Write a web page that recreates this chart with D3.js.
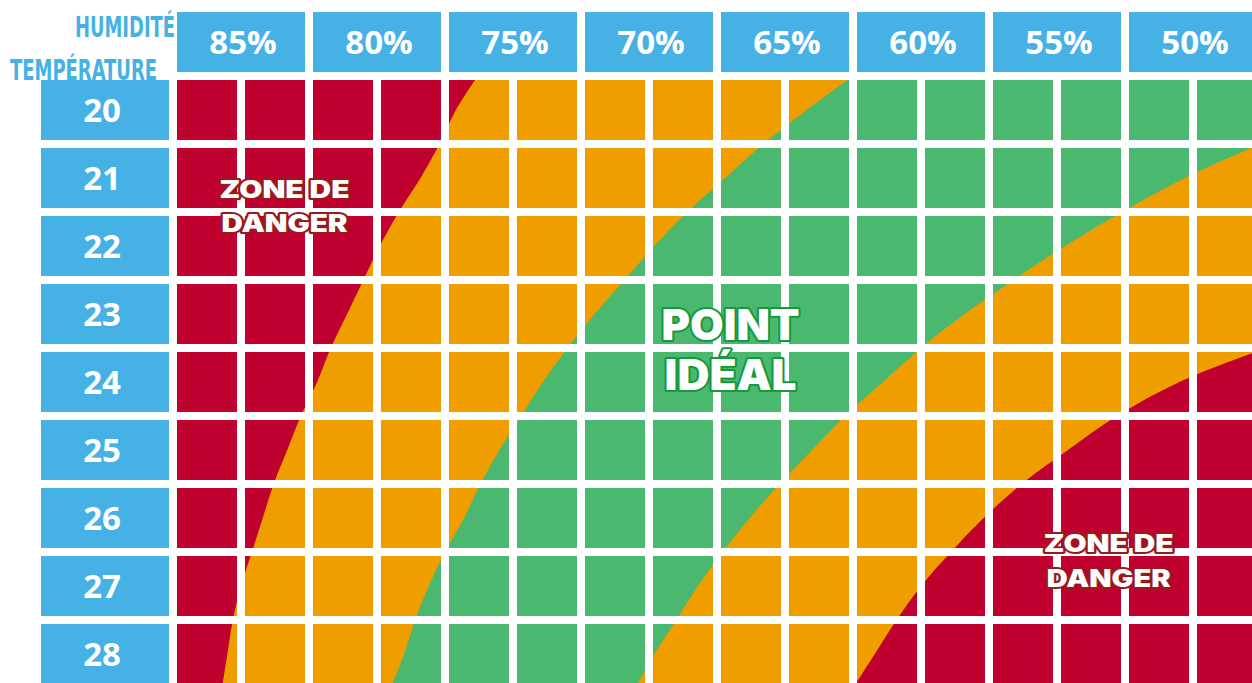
<!DOCTYPE html>
<meta charset="utf-8">
<style>
  body { margin: 0; background: #fff; overflow: hidden; }
</style>

<!-- Load d3.js -->
<script src="https://d3js.org/d3.v7.js"></script>

<div id="my_dataviz"></div>

<script>

// column headers (each covers two grid columns) and row headers
var humidityLabels = ["85%", "80%", "75%", "70%", "65%", "60%", "55%", "50%"];
var temperatures = [20, 21, 22, 23, 24, 25, 26, 27, 28];

// zone boundaries: humidity (%) at each half degree
var boundaryTemps = [19.5, 20, 20.5, 21, 21.5, 22, 22.5, 23, 23.5, 24, 24.5, 25, 25.5, 26, 26.5, 27, 27.5, 28, 28.5];
// red | orange (left)
var redOrangeLeft = [76.3, 77.1, 77.7, 78.4, 79.2, 79.9, 80.5, 81.1, 81.7, 82.2, 82.8, 83.3, 83.8, 84.2, 84.6, 85.0, 85.3, 85.5, 85.7];
// orange | green (left)
var orangeGreenLeft = [62.5, 64.2, 65.8, 67.2, 68.6, 69.8, 70.9, 72.0, 73.0, 73.9, 74.7, 75.5, 76.2, 76.8, 77.5, 78.1, 78.6, 79.0, 79.5];
// green | orange (right)
var greenOrangeRight = [40.7, 44.2, 47.5, 50.3, 52.6, 54.7, 56.6, 58.4, 60.0, 61.4, 62.8, 64.0, 65.2, 66.3, 67.3, 68.2, 69.0, 69.8, 70.5];
// orange | red (right), starts lower down
var redTemps = [23, 23.5, 24, 24.5, 25, 25.5, 26, 26.5, 27, 27.5, 28, 28.5];
var orangeRedRight = [43.7, 47.3, 50.5, 52.8, 54.6, 56.3, 57.7, 58.9, 60.0, 60.9, 61.7, 62.5];

// zone labels (position in humidity / temperature of the first baseline)
var zoneLabels = [
  {lines: ["ZONE DE", "DANGER"], h: 83.4, t: 21.29, size: 24, gap: 34, w: [130, 126], stroke: "#9a1a1c"},
  {lines: ["POINT", "IDÉAL"], h: 67.0, t: 23.38, size: 42, gap: 50, w: [138, 132], stroke: "#129a3c"},
  {lines: ["ZONE DE", "DANGER"], h: 53.1, t: 26.5, size: 24, gap: 35, w: [130, 124], stroke: "#9a1a1c"}
];

var colors = {blue: "#45b1e5", red: "#c0002e", orange: "#f09d00", green: "#4ab86e"};

var width = 1252, height = 683;

var svg = d3.select("#my_dataviz")
  .append("svg")
    .attr("width", width)
    .attr("height", height);

// grid scales: 16 columns, 9 rows, step 68 and 8px gaps
var gridLeft = 173, gridTop = 76, step = 68;
var cols = d3.range(humidityLabels.length * 2);
var xCol = d3.scaleBand()
  .domain(cols)
  .range([gridLeft, gridLeft + cols.length * step])
  .paddingInner(8 / step)
  .paddingOuter(4 / step);
var xHead = d3.scaleBand()
  .domain(humidityLabels)
  .range([gridLeft, gridLeft + cols.length * step])
  .paddingInner(8 / (2 * step))
  .paddingOuter(4 / (2 * step));
var yRow = d3.scaleBand()
  .domain(temperatures)
  .range([gridTop, gridTop + temperatures.length * step])
  .paddingInner(8 / step)
  .paddingOuter(4 / step);

// continuous scales for the zone curves
var x = d3.scaleLinear()
  .domain([85, 50])
  .range([xHead("85%") + xHead.bandwidth() / 2, xHead("50%") + xHead.bandwidth() / 2]);
var y = d3.scaleLinear()
  .domain([20, 28])
  .range([yRow(20) + yRow.bandwidth() / 2, yRow(28) + yRow.bandwidth() / 2]);

// clip the zones to the cells
var clip = svg.append("clipPath").attr("id", "cells");
temperatures.forEach(function (t) {
  cols.forEach(function (c) {
    clip.append("rect")
      .attr("x", xCol(c))
      .attr("y", yRow(t))
      .attr("width", xCol.bandwidth())
      .attr("height", yRow.bandwidth());
  });
});

var zones = svg.append("g").attr("clip-path", "url(#cells)");
var leftEdge = 0, rightEdge = width + 300;

zones.append("rect")
  .attr("x", gridLeft).attr("y", gridTop)
  .attr("width", width).attr("height", height)
  .attr("fill", colors.green);

function zoneArea(temps, hums, fromLeft) {
  var pts = temps.map(function (t, i) { return [t, hums[i]]; });
  var area = d3.area()
    .curve(d3.curveCatmullRom)
    .y(function (d) { return y(d[0]); });
  if (fromLeft) {
    area.x0(leftEdge).x1(function (d) { return x(d[1]); });
  } else {
    area.x0(function (d) { return x(d[1]); }).x1(rightEdge);
  }
  return area(pts);
}

zones.append("path").attr("d", zoneArea(boundaryTemps, orangeGreenLeft, true)).attr("fill", colors.orange);
zones.append("path").attr("d", zoneArea(boundaryTemps, redOrangeLeft, true)).attr("fill", colors.red);
zones.append("path").attr("d", zoneArea(boundaryTemps, greenOrangeRight, false)).attr("fill", colors.orange);
zones.append("path").attr("d", zoneArea(redTemps, orangeRedRight, false)).attr("fill", colors.red);

// humidity header boxes
var headTop = yRow(20) - 8 - yRow.bandwidth();
svg.append("g")
  .selectAll("rect")
  .data(humidityLabels)
  .enter()
  .append("rect")
    .attr("x", function (d) { return xHead(d); })
    .attr("y", headTop)
    .attr("width", xHead.bandwidth())
    .attr("height", yRow.bandwidth())
    .attr("fill", colors.blue);
svg.append("g")
  .selectAll("text")
  .data(humidityLabels)
  .enter()
  .append("text")
    .attr("x", function (d) { return xHead(d) + xHead.bandwidth() / 2 + 2; })
    .attr("y", headTop + 42)
    .attr("text-anchor", "middle")
    .attr("font-family", "'Open Sans', sans-serif")
    .attr("font-weight", 700)
    .attr("font-size", 33)
    .attr("fill", "#fff")
    .text(function (d) { return d; });

// temperature row boxes
var rowBoxX = 41, rowBoxW = gridLeft + 4 - 8 - rowBoxX;
svg.append("g")
  .selectAll("rect")
  .data(temperatures)
  .enter()
  .append("rect")
    .attr("x", rowBoxX)
    .attr("y", function (d) { return yRow(d); })
    .attr("width", rowBoxW)
    .attr("height", yRow.bandwidth())
    .attr("fill", colors.blue);
svg.append("g")
  .selectAll("text")
  .data(temperatures)
  .enter()
  .append("text")
    .attr("x", rowBoxX + rowBoxW / 2 - 3)
    .attr("y", function (d) { return yRow(d) + 42; })
    .attr("text-anchor", "middle")
    .attr("font-family", "'Open Sans', sans-serif")
    .attr("font-weight", 700)
    .attr("font-size", 33)
    .attr("fill", "#fff")
    .text(function (d) { return d; });

// axis titles, condensed
svg.append("text")
  .attr("x", 75).attr("y", 37)
  .attr("textLength", 100).attr("lengthAdjust", "spacingAndGlyphs")
  .attr("font-family", "'DejaVu Sans Condensed', 'DejaVu Sans', sans-serif")
  .attr("font-weight", 700).attr("font-size", 29)
  .attr("fill", colors.blue)
  .text("HUMIDITÉ");
svg.append("text")
  .attr("x", 10).attr("y", 80)
  .attr("textLength", 147).attr("lengthAdjust", "spacingAndGlyphs")
  .attr("font-family", "'DejaVu Sans Condensed', 'DejaVu Sans', sans-serif")
  .attr("font-weight", 700).attr("font-size", 29)
  .attr("fill", colors.blue)
  .text("TEMPÉRATURE");

// zone labels, white with coloured outline
zoneLabels.forEach(function (z) {
  z.lines.forEach(function (line, i) {
    svg.append("text")
      .attr("x", x(z.h))
      .attr("y", y(z.t) + i * z.gap)
      .attr("text-anchor", "middle")
      .attr("textLength", z.w[i]).attr("lengthAdjust", "spacingAndGlyphs")
      .attr("font-family", "Inter, 'Noto Sans', sans-serif")
      .attr("font-weight", 900)
      .attr("font-size", z.size)
      .attr("fill", "#fff")
      .attr("stroke", z.stroke)
      .attr("stroke-width", 4)
      .attr("stroke-linejoin", "round")
      .attr("paint-order", "stroke")
      .text(line);
  });
});

</script>
